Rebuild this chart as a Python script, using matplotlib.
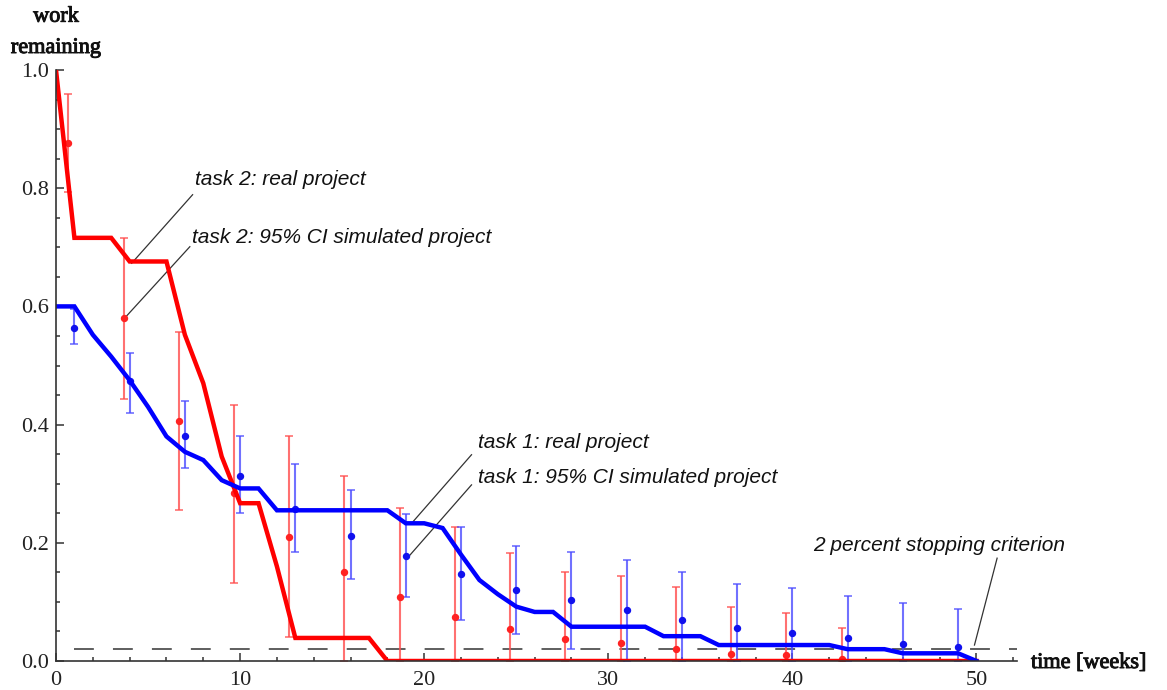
import matplotlib
matplotlib.use("Agg")
import matplotlib.pyplot as plt
import matplotlib.patheffects as pe
import numpy as np

# task 2, real project (red line)
t2_weeks = [0, 1, 3, 4, 6, 7, 8, 9, 10, 11, 12, 13, 17, 18, 50]
t2_work = [1.0, 0.716, 0.716, 0.676, 0.676, 0.552, 0.470, 0.346, 0.267, 0.267, 0.160, 0.039, 0.039, 0.0, 0.0]

# task 1, real project (blue line)
t1_weeks = [0, 1, 2, 3, 4, 5, 6, 7, 8, 9, 10, 11, 12, 18, 19, 20, 21, 22, 23, 24, 25, 26, 27, 28,
            32, 33, 35, 36, 42, 43, 45, 46, 49, 50]
t1_work = [0.6, 0.6, 0.552, 0.515, 0.475, 0.43, 0.38, 0.354, 0.34, 0.306, 0.292, 0.292, 0.255, 0.255,
           0.233, 0.233, 0.225, 0.180, 0.137, 0.113, 0.092, 0.083, 0.083, 0.058,
           0.058, 0.042, 0.042, 0.027, 0.027, 0.020, 0.020, 0.013, 0.013, 0.0]

# task 2, 95% CI simulated project
t2_sim_weeks = [0.67, 3.67, 6.67, 9.67, 12.67, 15.67, 18.67, 21.67, 24.67, 27.67, 30.67, 33.67, 36.67, 39.67, 42.67]
t2_sim_mean = [0.876, 0.581, 0.406, 0.285, 0.209, 0.150, 0.108, 0.075, 0.054, 0.037, 0.031, 0.021, 0.011, 0.010, 0.003]
t2_sim_high = [0.959, 0.716, 0.556, 0.433, 0.380, 0.313, 0.259, 0.226, 0.182, 0.150, 0.143, 0.125, 0.091, 0.081, 0.056]
t2_sim_low = [0.794, 0.444, 0.256, 0.132, 0.041, 0, 0, 0, 0, 0, 0, 0, 0, 0, 0]

# task 1, 95% CI simulated project
t1_sim_weeks = [1, 4, 7, 10, 13, 16, 19, 22, 25, 28, 31, 34, 37, 40, 43, 46, 49]
t1_sim_mean = [0.563, 0.473, 0.381, 0.313, 0.258, 0.212, 0.178, 0.148, 0.120, 0.103, 0.086, 0.069, 0.055,
               0.048, 0.039, 0.029, 0.024]
t1_sim_high = [0.595, 0.521, 0.440, 0.380, 0.333, 0.289, 0.248, 0.226, 0.195, 0.185, 0.171, 0.151, 0.131,
               0.124, 0.110, 0.098, 0.088]
t1_sim_low = [0.536, 0.420, 0.326, 0.250, 0.184, 0.138, 0.109, 0.069, 0.046, 0.021, 0, 0, 0, 0, 0, 0, 0]

stop_level = 0.02

plt.rcParams['font.family'] = 'serif'
plt.rcParams['font.serif'] = ['Liberation Serif', 'DejaVu Serif']

fig = plt.figure(figsize=(11.67, 6.9), dpi=100)
ax = fig.add_axes([56 / 1167, 29 / 690, 961 / 1167, 591 / 690])

def draw_ci(weeks, mean, low, high, bar_color, dot_color):
    mean = np.array(mean)
    err = [mean - np.array(low), np.array(high) - mean]
    ax.errorbar(weeks, mean, yerr=err, fmt='o', color=dot_color, ecolor=bar_color,
                elinewidth=1.5, capsize=2.6, capthick=1.2, markersize=4.3, zorder=2)

draw_ci(t2_sim_weeks, t2_sim_mean, t2_sim_low, t2_sim_high, (1.0, 0.3, 0.3, 0.8), '#ff2222')
draw_ci(t1_sim_weeks, t1_sim_mean, t1_sim_low, t1_sim_high, (0.3, 0.3, 1.0, 0.8), '#1010ee')

ax.plot(t2_weeks, t2_work, color='#ff0000', lw=3.2, solid_joinstyle='miter', zorder=3)
ax.plot(t1_weeks, t1_work, color='#0000ff', lw=3.2, solid_joinstyle='miter', zorder=3)

ax.plot([1, 52.2], [stop_level, stop_level], color='#333333', lw=1.1, dashes=(13, 12.5), zorder=1)

ax.set_xlim(0, 52.2)
ax.set_ylim(0, 1.0)
ax.set_xticks(range(0, 51, 10))
ax.set_xticks(range(0, 53, 2), minor=True)
ax.set_yticks([0, 0.2, 0.4, 0.6, 0.8, 1.0])
ax.set_yticklabels(['0.0', '0.2', '0.4', '0.6', '0.8', '1.0'])
ax.set_yticks(np.arange(0, 1.001, 0.05), minor=True)

for s in ['top', 'right']:
    ax.spines[s].set_visible(False)
for s in ['left', 'bottom']:
    ax.spines[s].set_color('#333333')
    ax.spines[s].set_linewidth(1.2)
    ax.spines[s].set_zorder(4)

ax.tick_params(which='both', direction='in', color='#333333', width=1.1, labelsize=16, labelcolor='#222222')
ax.tick_params(which='major', length=5.5)
ax.tick_params(which='minor', length=3)
ax.tick_params(axis='x', pad=7)
ax.tick_params(axis='y', pad=5)

heavy = [pe.withStroke(linewidth=0.7, foreground='#111111')]
fig.text(56 / 1167, 1 - 21.7 / 690, 'work', ha='center', va='baseline', fontsize=16,
         color='#111111', path_effects=heavy)
fig.text(56 / 1167, 1 - 53 / 690, 'remaining', ha='center', va='baseline', fontsize=16,
         color='#111111', path_effects=heavy)
fig.text(1031 / 1167, 1 - 668 / 690, 'time [weeks]', ha='left', va='baseline', fontsize=16,
         color='#111111', path_effects=heavy)

note = dict(family='Liberation Sans', style='italic', fontsize=15, color='#111111', ha='left', va='center')
lead = dict(color='#333333', lw=0.9)

ax.text(7.55, 0.814, 'task 2: real project', **note)
ax.plot([7.42, 4.11], [0.789, 0.673], **lead)
ax.text(7.38, 0.717, 'task 2: 95% CI simulated project', **note)
ax.plot([7.27, 3.84], [0.701, 0.584], **lead)

ax.text(22.9, 0.369, 'task 1: real project', **note)
ax.plot([22.57, 19.4], [0.349, 0.236], **lead)
ax.text(22.9, 0.311, 'task 1: 95% CI simulated project', **note)
ax.plot([22.57, 19.22], [0.298, 0.179], **lead)

ax.text(41.1, 0.196, '2 percent stopping criterion', **note)
ax.plot([51.12, 49.89], [0.174, 0.027], **lead)

fig.savefig('out.png', dpi=100)
